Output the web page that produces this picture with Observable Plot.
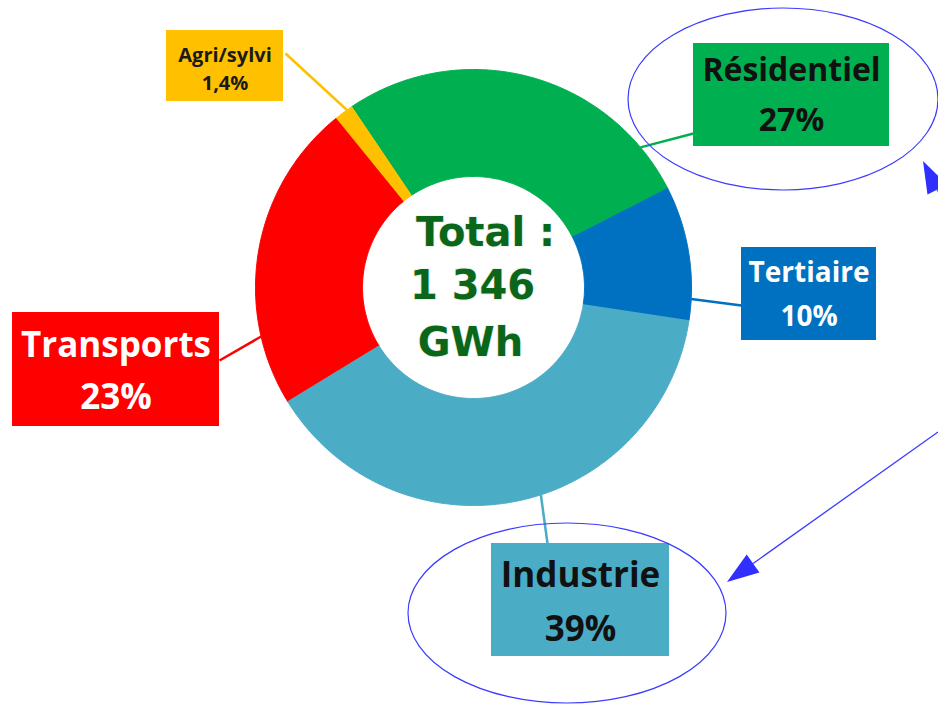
<!DOCTYPE html>
<html><head><meta charset="utf-8">
<script src="https://cdn.jsdelivr.net/npm/d3@7"></script>
<script src="https://cdn.jsdelivr.net/npm/@observablehq/plot@0.6"></script>
<style>body{margin:0;background:#fff;overflow:hidden} text{font-variant-ligatures:none;font-feature-settings:"liga" 0,"clig" 0}</style>
</head><body><div id="chart"></div>
<script>
// ---- data ----
const sectors = ["Résidentiel", "Tertiaire", "Industrie", "Transports", "Agri/sylvi"];
const shares = [27, 10, 39, 23, 1.4];
const shareLabels = ["27%", "10%", "39%", "23%", "1,4%"];
const totalLines = ["Total :", "1 346", "GWh"];

// ---- styles ----
const colors = ["#00b050", "#0070c0", "#4bacc6", "#ff0000", "#ffc000"];
const textColors = ["#111111", "#ffffff", "#111111", "#ffffff", "#1a1a1a"];

// ---- layout ----
const W = 938, H = 704, CX = 473, CY = 287, R_OUT = 218, R_IN = 111, START = -34;
const boxes = [
  {x1: 693, x2: 889, y1: 43, y2: 146, b1: 82, b2: 132, fs: 32, ax: 50, lx: 693, ly: 133},
  {x1: 741, x2: 876, y1: 247, y2: 340, b1: 283, b2: 327, fs: 28, ax: 93, lx: 741, ly: 305},
  {x1: 491, x2: 669, y1: 543, y2: 656, b1: 588, b2: 642, fs: 35, ax: 162, lx: 547, ly: 543},
  {x1: 12, x2: 219, y1: 312, y2: 426, b1: 358, b2: 410, fs: 35, ax: 257, lx: 219, ly: 360},
  {x1: 166, x2: 283, y1: 30, y2: 101, b1: 62, b2: 90, fs: 20, ax: 324.5, lx: 285, ly: 53}
];
const centerBaselines = [247, 300, 357];
const centerX = [485, 472, 470];
const ellipses = [{cx: 783, cy: 99, rx: 155, ry: 91}, {cx: 567, cy: 613, rx: 159, ry: 90}];
const arrows = [
  {x1: 975, y1: 265, x2: 923, y2: 161},
  {x1: 938, y1: 432, x2: 727, y2: 582}
];

const rad = d => d * Math.PI / 180;
const pt = (a, r) => ({x: CX + r * Math.sin(a), y: CY - r * Math.cos(a)});

const arcs = d3.pie().sort(null).value(d => d)
  .startAngle(rad(START)).endAngle(rad(START + 360))(shares);

const slicePts = [];
arcs.forEach((a, i) => {
  const n = Math.max(6, Math.ceil((a.endAngle - a.startAngle) / 0.01));
  for (let k = 0; k <= n; k++) {
    const t = a.startAngle + (a.endAngle - a.startAngle) * k / n;
    slicePts.push({key: sectors[i], color: colors[i], ...pt(t, R_OUT)});
  }
  for (let k = n; k >= 0; k--) {
    const t = a.startAngle + (a.endAngle - a.startAngle) * k / n;
    slicePts.push({key: sectors[i], color: colors[i], ...pt(t, R_IN)});
  }
});

const labelRows = sectors.map((s, i) => {
  const b = boxes[i];
  const p = pt(rad(b.ax), R_OUT);
  return {
    name: s, pct: shareLabels[i], color: colors[i], tcolor: textColors[i],
    x1: b.x1, x2: b.x2, y1: b.y1, y2: b.y2, xc: (b.x1 + b.x2) / 2,
    yName: b.b1 - 0.36 * b.fs, yPct: b.b2 - 0.36 * b.fs, fs: b.fs,
    px: p.x, py: p.y, lx: b.lx, ly: b.ly
  };
});

const centerRows = totalLines.map((t, i) => ({t, x: centerX[i], y: centerBaselines[i] - 0.36 * 40}));

function annotations(index, scales) {
  const g = d3.create("svg:g");
  const sx = scales.x, sy = scales.y;
  ellipses.forEach(e => {
    g.append("ellipse")
      .attr("cx", sx(e.cx)).attr("cy", sy(e.cy))
      .attr("rx", sx(e.cx + e.rx) - sx(e.cx)).attr("ry", sy(e.cy + e.ry) - sy(e.cy))
      .attr("fill", "none").attr("stroke", "#3b3bff").attr("stroke-width", 1.2);
  });
  arrows.forEach(a => {
    const x1 = sx(a.x1), y1 = sy(a.y1), x2 = sx(a.x2), y2 = sy(a.y2);
    const dx = x1 - x2, dy = y1 - y2, L = Math.hypot(dx, dy);
    const ux = dx / L, uy = dy / L, len = 32, hw = 11;
    const bx = x2 + ux * len, by = y2 + uy * len;
    g.append("line").attr("x1", x1).attr("y1", y1).attr("x2", bx).attr("y2", by)
      .attr("stroke", "#3b3bff").attr("stroke-width", 1.3);
    g.append("polygon")
      .attr("points", [[x2, y2], [bx - uy * hw, by + ux * hw], [bx + uy * hw, by - ux * hw]].map(p => p.join(",")).join(" "))
      .attr("fill", "#2f2fff");
  });
  return g.node();
}

const chart = Plot.plot({
  width: W, height: H, margin: 0,
  style: {background: "#fff"},
  x: {domain: [0, W], range: [0, W], axis: null},
  y: {domain: [0, H], range: [0, H], axis: null},
  color: {type: "identity"},
  marks: [
    Plot.line(slicePts, {x: "x", y: "y", z: "key", fill: "color", stroke: "color", strokeWidth: 1, curve: "linear"}),
    Plot.link(labelRows, {x1: "px", y1: "py", x2: "lx", y2: "ly", stroke: "color", strokeWidth: 2.5}),
    Plot.rect(labelRows, {x1: "x1", x2: "x2", y1: "y1", y2: "y2", fill: "color"}),
    ...labelRows.map(r => Plot.text([r], {x: "xc", y: "yName", text: "name", fill: "tcolor", fontSize: r.fs, fontWeight: "bold", fontFamily: "Open Sans"})),
    ...labelRows.map(r => Plot.text([r], {x: "xc", y: "yPct", text: "pct", fill: "tcolor", fontSize: r.fs, fontWeight: "bold", fontFamily: "Open Sans"})),
    Plot.text(centerRows, {x: "x", y: "y", text: "t", fill: "#0a6619", fontSize: 40, fontWeight: "bold", fontFamily: "DejaVu Sans", stroke: "#eef4ee", strokeWidth: 2}),
    annotations
  ]
});
document.getElementById("chart").append(chart);
</script>
</body></html>
